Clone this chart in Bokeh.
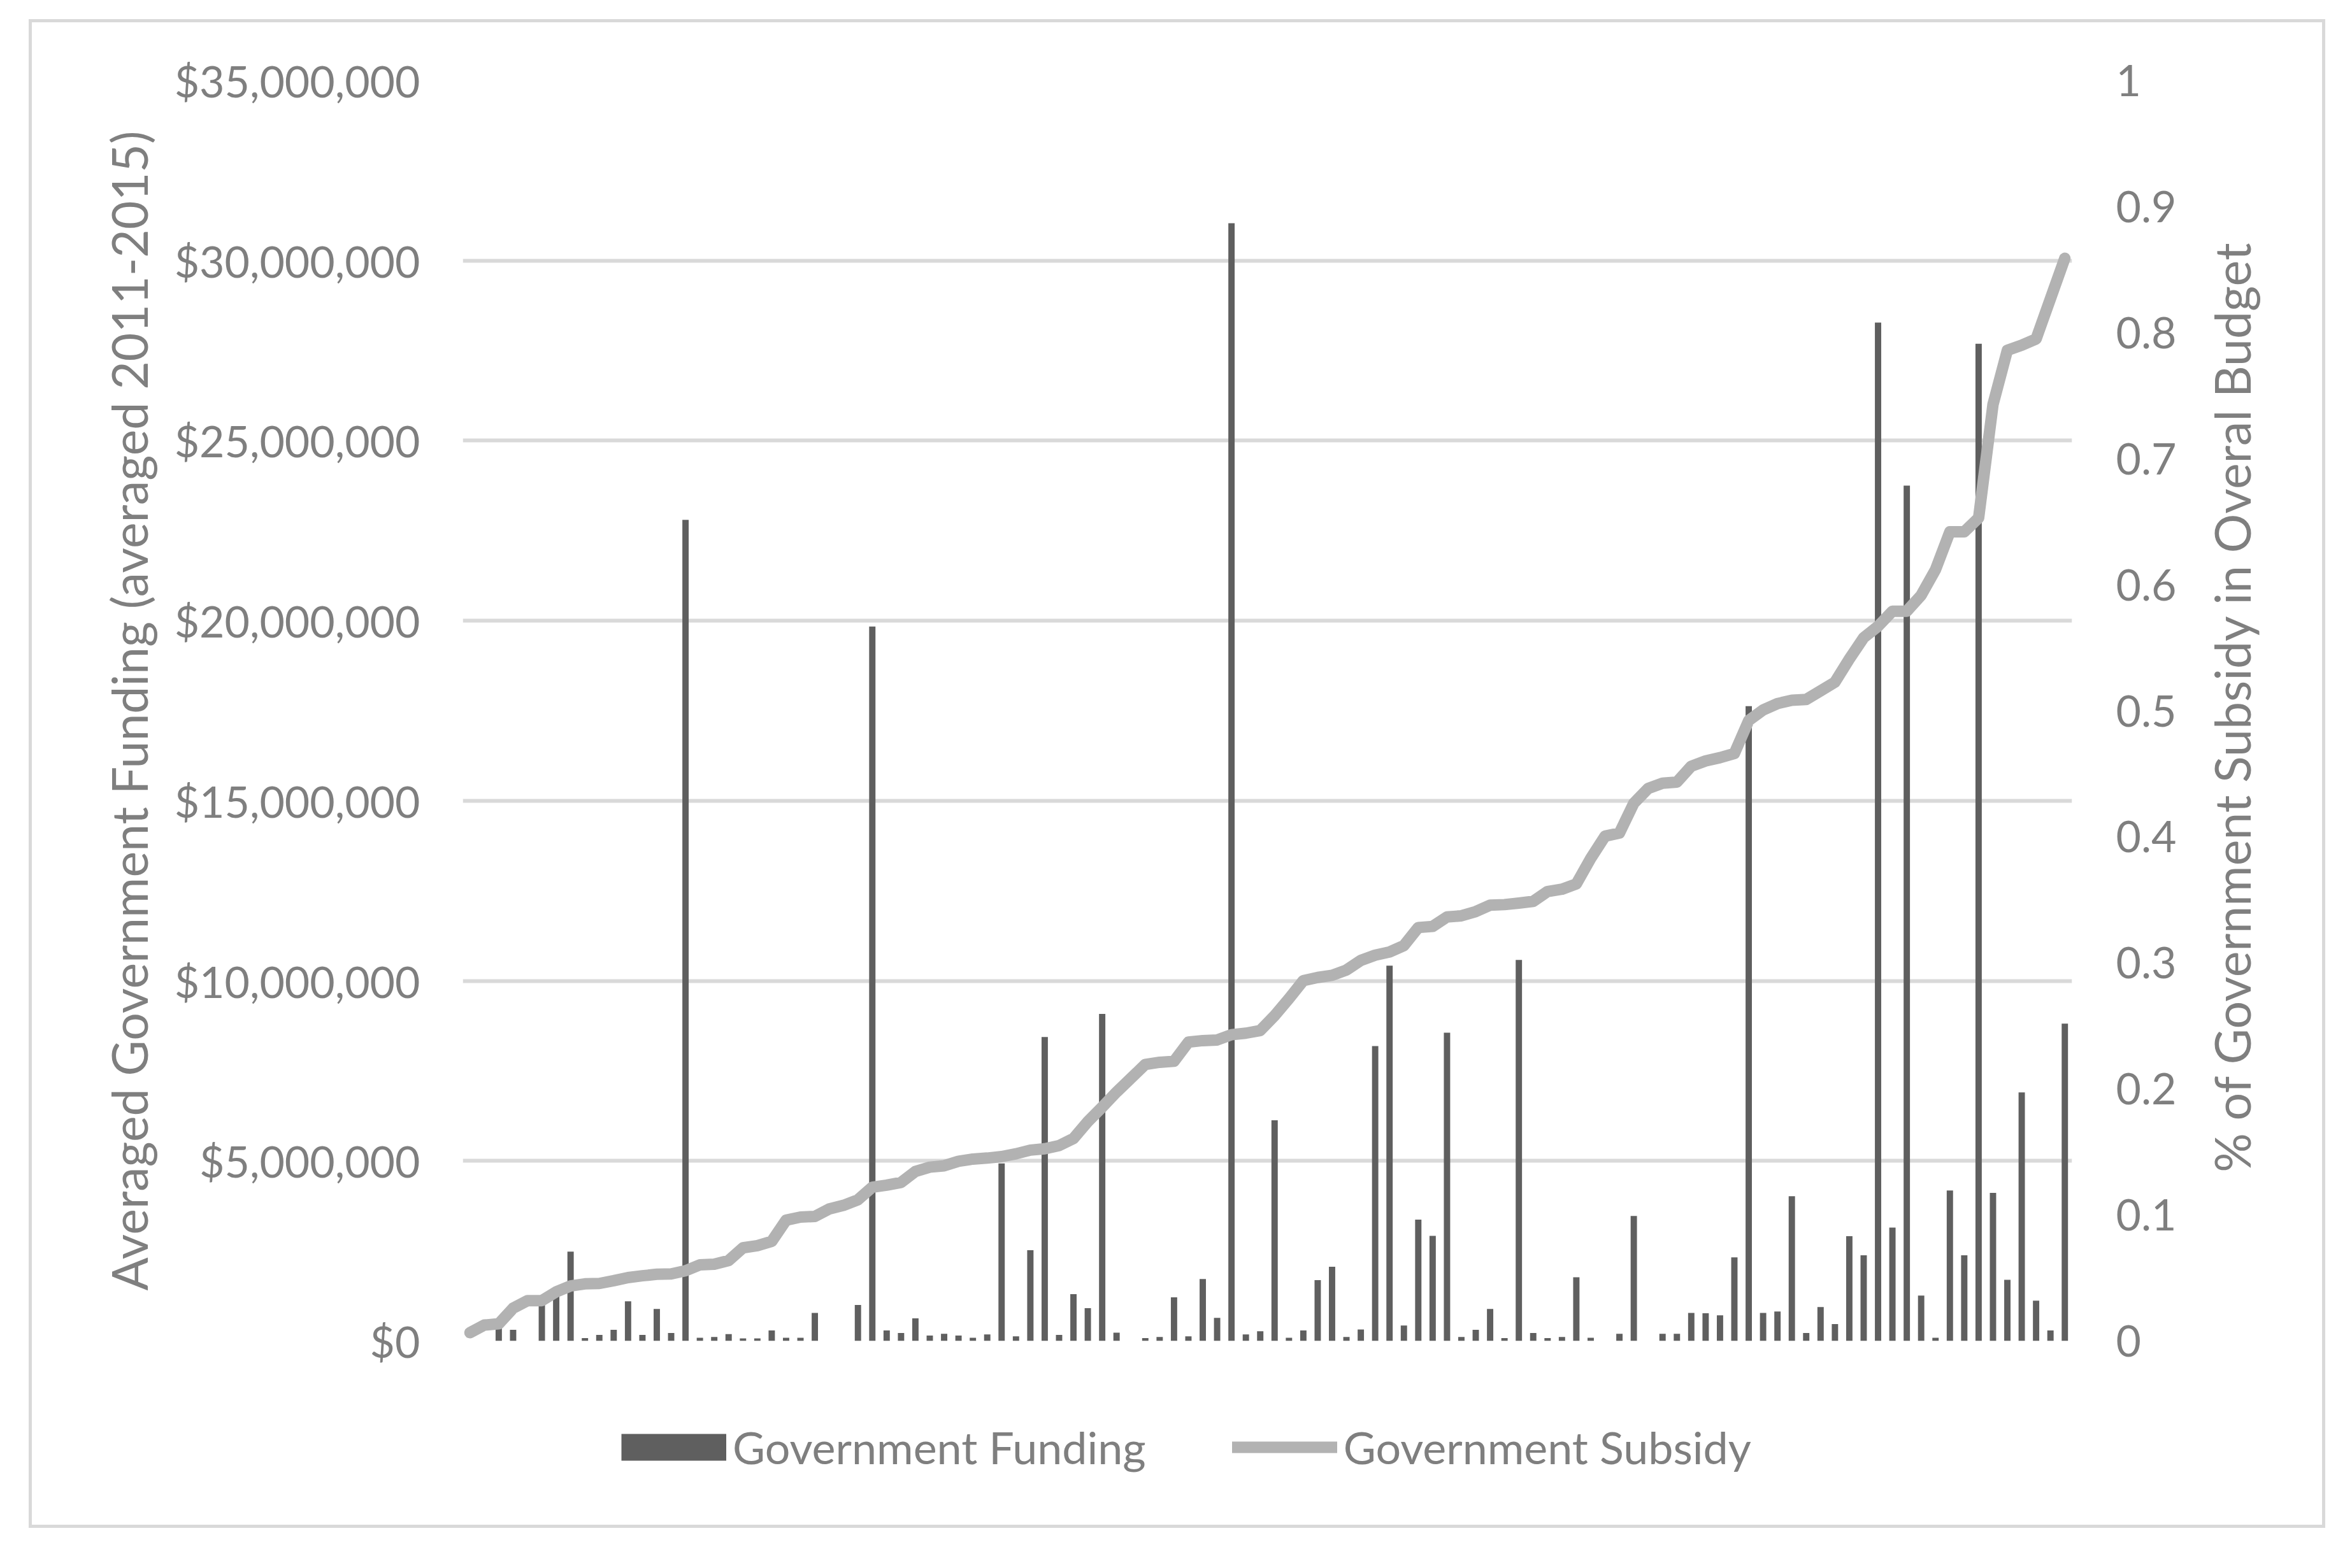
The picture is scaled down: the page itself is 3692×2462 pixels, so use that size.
import math
from bokeh.plotting import figure
from bokeh.layouts import row, column
from bokeh.models import (ColumnDataSource, Range1d, LinearAxis, FixedTicker,
                          NumeralTickFormatter, CustomJSTickFormatter, Legend,
                          LegendItem, Label)
from bokeh.embed import file_html
from bokeh.resources import INLINE

# ---------------- data ----------------
# Averaged government funding per organisation, in millions of dollars
funding_musd = [
    0.0, 0.0, 0.35, 0.31, 0.0, 1.0, 1.45, 2.48, 0.08, 0.17,
    0.31, 1.10, 0.17, 0.89, 0.22, 22.8, 0.09, 0.11, 0.19, 0.07,
    0.07, 0.29, 0.09, 0.09, 0.78, 0.0, 0.0, 1.0, 19.84, 0.29,
    0.22, 0.63, 0.15, 0.20, 0.15, 0.09, 0.18, 4.93, 0.13, 2.52,
    8.44, 0.17, 1.30, 0.91, 9.08, 0.23, 0.0, 0.08, 0.11, 1.21,
    0.13, 1.72, 0.64, 31.04, 0.18, 0.27, 6.13, 0.09, 0.29, 1.69,
    2.06, 0.11, 0.32, 8.19, 10.42, 0.43, 3.37, 2.92, 8.56, 0.11,
    0.31, 0.89, 0.08, 10.58, 0.22, 0.08, 0.11, 1.77, 0.09, 0.0,
    0.20, 3.47, 0.0, 0.20, 0.20, 0.78, 0.77, 0.71, 2.32, 17.63,
    0.78, 0.82, 4.02, 0.22, 0.94, 0.47, 2.91, 2.38, 28.28, 3.15,
    23.75, 1.26, 0.09, 4.18, 2.38, 27.69, 4.11, 1.70, 6.90, 1.12,
    0.29, 8.81,
]
# Share of government subsidy in overall budget
subsidy_share = [
    0.0066, 0.0126, 0.0136, 0.026, 0.032, 0.032, 0.039, 0.0436, 0.0453, 0.0456,
    0.0478, 0.0503, 0.0517, 0.0529, 0.0532, 0.0557, 0.0604, 0.0609, 0.0638, 0.0739,
    0.0756, 0.079, 0.0958, 0.0983, 0.0988, 0.1047, 0.1076, 0.112, 0.122, 0.1236,
    0.1258, 0.1345, 0.1379, 0.139, 0.1426, 0.1443, 0.1451, 0.1463, 0.1485, 0.1514,
    0.1525, 0.155, 0.1606, 0.174, 0.1855, 0.1975, 0.2084, 0.2194, 0.2211, 0.2219,
    0.2371, 0.2383, 0.2388, 0.243, 0.2442, 0.2463, 0.2581, 0.2716, 0.2859, 0.2884,
    0.2901, 0.2943, 0.3019, 0.3061, 0.3086, 0.3137, 0.328, 0.3289, 0.3364, 0.3373,
    0.3407, 0.3457, 0.3462, 0.3474, 0.3488, 0.3566, 0.3584, 0.3626, 0.3828, 0.4005,
    0.403, 0.4266, 0.4384, 0.4425, 0.4434, 0.456, 0.4602, 0.4628, 0.4661, 0.4923,
    0.5006, 0.5057, 0.5083, 0.509, 0.5158, 0.5227, 0.541, 0.558, 0.567, 0.579,
    0.579, 0.5916, 0.612, 0.642, 0.642, 0.653, 0.743, 0.786, 0.790, 0.795,
    0.827, 0.859,
]
organisations = list(range(len(funding_musd)))
left_ticks = [0, 5_000_000, 10_000_000, 15_000_000, 20_000_000, 25_000_000, 30_000_000, 35_000_000]
right_ticks = [0, 0.1, 0.2, 0.3, 0.4, 0.5, 0.6, 0.7, 0.8, 0.9, 1.0]
series_names = ["Government Funding", "Government Subsidy"]
left_title = "Averaged Government Funding (averaged 2011-2015)"
right_title = "% of Government Subsidy in Overal Budget"

# ---------------- styling / geometry ----------------
TOTAL_W, TOTAL_H = 3595, 2359       # inside of the grey chart border
MARGIN_TOP, MARGIN_LEFT = 35, 50
PW, PH = 3390, 2170                 # main plot
FL, FT, FW, FH = 676, 91, 2526, 1979
BAR_C, LINE_C, GRID_C, TEXT_C = "#5f5f5f", "#b2b2b2", "#d9d9d9", "#7f7f7f"
FONT = "Lato"
TICK_FS, TITLE_FS, LEG_FS = "68px", "77px", "70px"
N = len(organisations)

src = ColumnDataSource(dict(
    x=organisations,
    funding=[v * 1_000_000 for v in funding_musd],
    subsidy=subsidy_share,
))

# ---------------- main plot ----------------
p = figure(width=PW, height=PH, frame_width=FW, frame_height=FH,
           output_backend="svg", toolbar_location=None,
           x_range=Range1d(-0.5, N - 0.5), y_range=Range1d(0, left_ticks[-1]),
           x_axis_location=None,
           min_border_left=FL, min_border_right=PW - FL - FW,
           min_border_top=FT, min_border_bottom=PH - FT - FH)
p.extra_y_ranges = {"right": Range1d(0, 1)}
p.outline_line_color = None
p.background_fill_color = "white"
p.border_fill_color = "white"
p.xgrid.visible = False

yl = p.yaxis[0]
yl.ticker = FixedTicker(ticks=left_ticks)
yl.formatter = NumeralTickFormatter(format="$0,0")
yl.axis_line_color = None
yl.major_tick_line_color = None
yl.minor_tick_line_color = None
yl.major_tick_out = 0
yl.major_tick_in = 0
yl.major_label_standoff = 67
yl.major_label_text_font = FONT
yl.major_label_text_font_size = TICK_FS
yl.major_label_text_color = TEXT_C
yl.axis_label = left_title
yl.axis_label_standoff = 23
yl.axis_label_text_font = FONT
yl.axis_label_text_font_size = TITLE_FS
yl.axis_label_text_font_style = "normal"
yl.axis_label_text_color = TEXT_C

p.ygrid[0].ticker = FixedTicker(ticks=left_ticks)
p.ygrid[0].grid_line_color = GRID_C
p.ygrid[0].grid_line_width = 6

yr = LinearAxis(y_range_name="right", ticker=FixedTicker(ticks=right_ticks),
                formatter=CustomJSTickFormatter(code="return String(Math.round(tick*10)/10);"))
yr.axis_line_color = None
yr.major_tick_line_color = None
yr.minor_tick_line_color = None
yr.major_tick_out = 0
yr.major_tick_in = 0
yr.major_label_standoff = 69
yr.major_label_text_font = FONT
yr.major_label_text_font_size = TICK_FS
yr.major_label_text_color = TEXT_C
p.add_layout(yr, "right")

bars = p.vbar(x="x", top="funding", width=0.44, source=src,
              fill_color=BAR_C, line_color=None)
line = p.line(x="x", y="subsidy", source=src, y_range_name="right",
              line_color=LINE_C, line_width=18, line_join="round", line_cap="round")

# ---------------- legend strip below the plot ----------------
# (its frame is aligned with the main plot's frame by the column layout)
LH = TOTAL_H - PH
q = figure(width=PW, height=LH, output_backend="svg", toolbar_location=None,
           title=None, x_range=Range1d(0, 1), y_range=Range1d(0, 1),
           x_axis_location=None, y_axis_location=None, min_border=0)
q.outline_line_color = None
q.background_fill_color = "white"
q.border_fill_color = "white"
q.grid.visible = False
# swatches only (one NaN point each, so nothing is drawn in the strip itself)
sw_bar = q.line(x=[0], y=[float("nan")], line_color=BAR_C, line_width=42, line_cap="butt")
sw_line = q.line(x=[0], y=[float("nan")], line_color=LINE_C, line_width=18, line_cap="round")
legend = Legend(
    items=[LegendItem(label=series_names[0], renderers=[sw_bar]),
           LegendItem(label=series_names[1], renderers=[sw_line])],
    location=(925 - FL, 80), orientation="horizontal",
    glyph_width=165, glyph_height=84, label_height=84, label_standoff=10,
    spacing=135, padding=0, margin=0, border_line_color=None,
    background_fill_alpha=0, label_text_font=FONT, label_text_font_size=LEG_FS,
    label_text_color=TEXT_C)
q.add_layout(legend)

# ---------------- right-hand title strip ----------------
RW = TOTAL_W - PW
r = figure(width=RW, height=TOTAL_H, output_backend="svg", toolbar_location=None,
           title=None, x_range=Range1d(0, RW), y_range=Range1d(0, TOTAL_H),
           x_axis_location=None, y_axis_location=None, min_border=0)
r.outline_line_color = None
r.background_fill_color = "white"
r.border_fill_color = "white"
r.grid.visible = False
r.add_layout(Label(x=62, y=TOTAL_H - 1074, angle=math.pi / 2, text=right_title,
                   text_align="center", text_baseline="middle",
                   text_font=FONT, text_font_size=TITLE_FS, text_color=TEXT_C))

layout = row(column(p, q, spacing=0), r, spacing=0)
layout.margin = (MARGIN_TOP, 0, 0, MARGIN_LEFT)
layout.styles = {"outline": "5px solid #d9d9d9"}

open("out.html", "w").write(file_html(layout, INLINE))
